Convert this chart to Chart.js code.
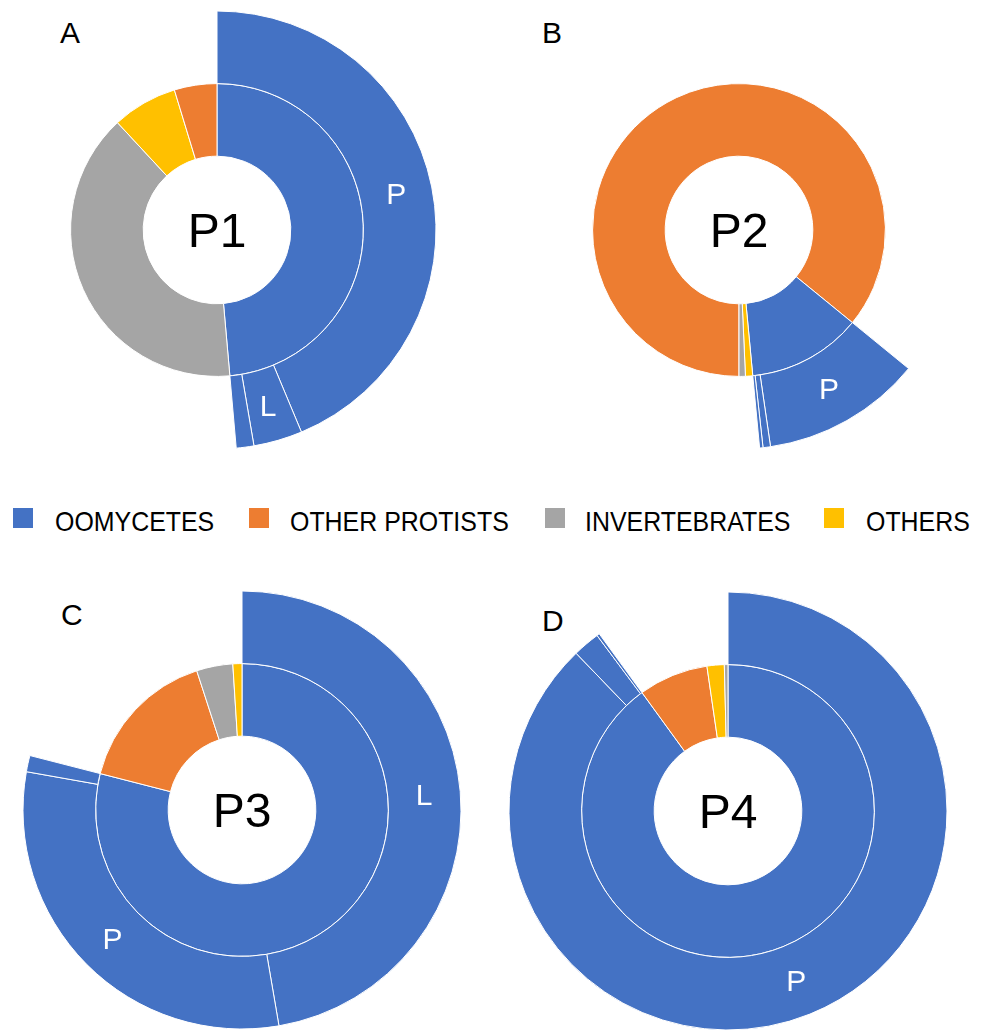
<!DOCTYPE html>
<html>
<head>
<meta charset="utf-8">
<script src="https://cdn.jsdelivr.net/npm/chart.js@4.4.1/dist/chart.umd.min.js"></script>
<style>
    html, body { margin: 0; padding: 0; background: #fff; }
    #figure { position: relative; width: 982px; height: 1030px; overflow: hidden; font-family: "Liberation Sans", Arial, sans-serif; }
    #figure canvas { position: absolute; }
    .panel-letter { position: absolute; font-size: 30px; line-height: 30px; color: #000; }
    .center-label { position: absolute; font-size: 48px; line-height: 48px; color: #000; transform: translate(-50%, -50%); white-space: nowrap; }
    .legend-box { position: absolute; width: 20px; height: 20px; top: 508px; }
    .legend-text { position: absolute; top: 508px; font-size: 28px; line-height: 28px; color: #000; white-space: nowrap; transform: scaleX(0.89); transform-origin: left center; }
</style>
</head>
<body>
<div id="figure">
    <div class="panel-letter" style="left:60px; top:18px;">A</div>
    <div class="panel-letter" style="left:542px; top:18px;">B</div>
    <div class="panel-letter" style="left:61px; top:600px;">C</div>
    <div class="panel-letter" style="left:542px; top:606px;">D</div>

    <canvas id="chart-p1" width="440" height="440" style="left:-3px; top:10px;"></canvas>
    <canvas id="chart-p2" width="440" height="440" style="left:519px; top:10px;"></canvas>
    <canvas id="chart-p3" width="440" height="440" style="left:22px; top:590px;"></canvas>
    <canvas id="chart-p4" width="440" height="440" style="left:508px; top:591px;"></canvas>

    <div class="center-label" style="left:217px; top:231px;">P1</div>
    <div class="center-label" style="left:739px; top:231px;">P2</div>
    <div class="center-label" style="left:242px; top:811px;">P3</div>
    <div class="center-label" style="left:728px; top:812px;">P4</div>

    <div id="legend"></div>
</div>

<script>
// categories shown in the inner ring (percent of reads per sample)
const categories = ['OOMYCETES', 'OTHER PROTISTS', 'INVERTEBRATES', 'OTHERS'];
const categoryColors = ['#4472C4', '#ED7D31', '#A5A5A5', '#FFC000'];

const p1Values = [48.6, 4.7, 39.5, 7.2];
const p2Values = [12.6, 85.9, 0.7, 0.8];
const p3Values = [79.0, 16.0, 4.0, 1.0];
const p4Values = [90.0, 7.7, 0.4, 1.9];

// oomycete genera, outer ring
const p1Genera = ['P', 'L', ''];
const p1GenusValues = [43.7, 3.6, 1.3];
const p2Genera = ['P', '', ''];
const p2GenusValues = [11.8, 0.55, 0.25];
const p3Genera = ['L', 'P', ''];
const p3GenusValues = [47.3, 30.5, 1.2];
const p4Genera = ['P', '', ''];
const p4GenusValues = [87.8, 2.0, 0.2];

// start angle of the first (largest) slice
const p1Rotation = 0;
const p2Rotation = 180;
const p3Rotation = 0;
const p4Rotation = 0;

// writes genus names inside the outer ring
const genusLabelPlugin = {
    id: 'genusLabels',
    afterDatasetsDraw(chart) {
        const meta = chart.getDatasetMeta(0);
        const names = chart.data.datasets[0].genusNames;
        const ctx = chart.ctx;
        ctx.save();
        ctx.fillStyle = '#ffffff';
        ctx.font = '30px "Liberation Sans", Arial, sans-serif';
        ctx.textAlign = 'center';
        ctx.textBaseline = 'middle';
        meta.data.forEach((arc, i) => {
            if (!names[i]) return;
            const pos = arc.tooltipPosition(true);
            ctx.fillText(names[i], pos.x, pos.y + 2);
        });
        ctx.restore();
    }
};

function createSunburstChart(canvasId, values, genera, genusValues, rotation) {
    // largest category first, clockwise
    const order = values.map((v, i) => i).sort((a, b) => values[b] - values[a]);

    const innerData = [], innerColors = [];
    const outerData = [], outerColors = [], outerBorders = [], outerNames = [];

    order.forEach(i => {
        innerData.push(values[i]);
        innerColors.push(categoryColors[i]);
        if (i === 0) {
            genusValues.forEach((v, g) => {
                outerData.push(v);
                outerColors.push(categoryColors[0]);
                outerBorders.push(1);
                outerNames.push(genera[g]);
            });
        } else {
            outerData.push(values[i]);
            outerColors.push('rgba(0,0,0,0)');
            outerBorders.push(0);
            outerNames.push('');
        }
    });

    const ctx = document.getElementById(canvasId).getContext('2d');
    new Chart(ctx, {
        type: 'doughnut',
        data: {
            datasets: [{
                data: outerData,
                backgroundColor: outerColors,
                borderColor: '#ffffff',
                borderWidth: outerBorders,
                genusNames: outerNames
            }, {
                data: innerData,
                backgroundColor: innerColors,
                borderColor: '#ffffff',
                borderWidth: 1
            }]
        },
        options: {
            responsive: false,
            animation: false,
            rotation: rotation,
            radius: 219,
            cutout: 74,
            layout: { padding: 0 },
            plugins: {
                legend: { display: false },
                tooltip: { enabled: false }
            }
        },
        plugins: [genusLabelPlugin]
    });
}

// shared legend under the top row
function createLegend(containerId) {
    const container = document.getElementById(containerId);
    const boxX = [13, 249, 545, 824];
    const textX = [55, 290, 585, 866];
    categories.forEach((name, i) => {
        const box = document.createElement('div');
        box.className = 'legend-box';
        box.style.left = boxX[i] + 'px';
        box.style.backgroundColor = categoryColors[i];
        container.appendChild(box);

        const text = document.createElement('div');
        text.className = 'legend-text';
        text.style.left = textX[i] + 'px';
        text.textContent = name;
        container.appendChild(text);
    });
}

createSunburstChart('chart-p1', p1Values, p1Genera, p1GenusValues, p1Rotation);
createSunburstChart('chart-p2', p2Values, p2Genera, p2GenusValues, p2Rotation);
createSunburstChart('chart-p3', p3Values, p3Genera, p3GenusValues, p3Rotation);
createSunburstChart('chart-p4', p4Values, p4Genera, p4GenusValues, p4Rotation);
createLegend('legend');
</script>
</body>
</html>
